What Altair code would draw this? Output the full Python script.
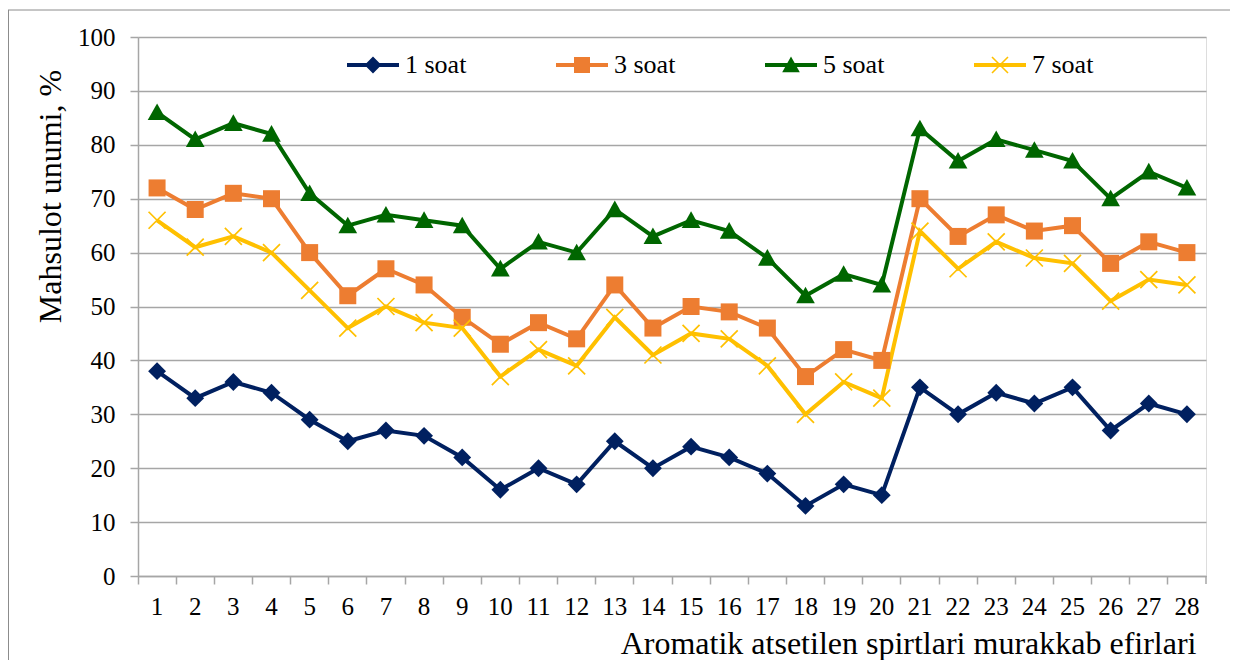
import altair as alt
import pandas as pd

categories = list(range(1, 29))
series_names = ["1 soat", "3 soat", "5 soat", "7 soat"]
soat1 = [38, 33, 36, 34, 29, 25, 27, 26, 22, 16, 20, 17, 25, 20, 24, 22, 19, 13, 17, 15, 35, 30, 34, 32, 35, 27, 32, 30]
soat3 = [72, 68, 71, 70, 60, 52, 57, 54, 48, 43, 47, 44, 54, 46, 50, 49, 46, 37, 42, 40, 70, 63, 67, 64, 65, 58, 62, 60]
soat5 = [86, 81, 84, 82, 71, 65, 67, 66, 65, 57, 62, 60, 68, 63, 66, 64, 59, 52, 56, 54, 83, 77, 81, 79, 77, 70, 75, 72]
soat7 = [66, 61, 63, 60, 53, 46, 50, 47, 46, 37, 42, 39, 48, 41, 45, 44, 39, 30, 36, 33, 64, 57, 62, 59, 58, 51, 55, 54]
colors = ["#002060", "#ED7D31", "#006600", "#FFC000"]
y_ticks = list(range(0, 101, 10))

rows = []
for name, vals in zip(series_names, [soat1, soat3, soat5, soat7]):
    for c, v in zip(categories, vals):
        rows.append({"idx": c, "series": name, "value": v})
df = pd.DataFrame(rows)

# marker shapes (unit square paths, filled, clockwise)
a = 0.0707
diamond = "M0,-1.05L1.05,0L0,1.05L-1.05,0Z"
square = "M-1,-1L1,-1L1,1L-1,1Z"
triangle = "M0,-1.05L1.1,0.9L-1.1,0.9Z"
xmark = (f"M{-1+a},{-1-a}L{1+a},{1-a}L{1-a},{1+a}L{-1-a},{-1+a}Z"
         f"M{-1-a},{1-a}L{1-a},{-1-a}L{1+a},{-1+a}L{-1+a},{1+a}Z")
marker_paths = [diamond, square, triangle, xmark]
line_seg = "M-3.25,-0.25L3.25,-0.25L3.25,0.25L-3.25,0.25Z"
legend_paths = [line_seg + p for p in marker_paths]

W, H = 1068, 539
GRID = "#a6a6a6"
FONT = "Liberation Serif, Times New Roman, Times, serif"

x_enc = alt.X(
    "idx:O",
    scale=alt.Scale(type="band", paddingInner=0, paddingOuter=0),
    axis=alt.Axis(
        title="Aromatik atsetilen spirtlari murakkab efirlari",
        labelAngle=0, bandPosition=0, tickSize=8, labelPadding=10,
        labelFontSize=25, labelFont=FONT, labelColor="black",
        titleFont=FONT, titleFontSize=32, titleFontWeight="normal", titleColor="black",
        titleX=1058, titleY=77, titleAlign="right", titleBaseline="alphabetic",
        domainColor=GRID, domainWidth=1.5, tickColor=GRID, tickWidth=1.5, grid=False,
    ),
)
y_enc = alt.Y(
    "value:Q",
    scale=alt.Scale(domain=[0, 100], nice=False),
    axis=alt.Axis(
        values=y_ticks, title="Mahsulot unumi, %",
        titleX=-78, titleY=159, titleAngle=270, titleAlign="center", titleBaseline="alphabetic",
        titleFont=FONT, titleFontSize=32, titleFontWeight="normal", titleColor="black",
        tickSize=8, labelPadding=15, labelFontSize=25, labelFont=FONT, labelColor="black",
        domainColor=GRID, domainWidth=1.5, tickColor=GRID, tickWidth=1.5,
        grid=True, gridColor=GRID, gridWidth=1.5,
    ),
)
color_scale = alt.Scale(domain=series_names, range=colors)

lines = alt.Chart(df).mark_line(strokeWidth=4).encode(
    x=x_enc, y=y_enc,
    color=alt.Color("series:N", scale=color_scale, legend=None),
    detail="series:N",
)

points = alt.Chart(df).mark_point(filled=True, opacity=1, size=289, strokeWidth=0).encode(
    x=x_enc, y=y_enc,
    color=alt.Color("series:N", scale=color_scale, legend=None),
    shape=alt.Shape("series:N", scale=alt.Scale(domain=series_names, range=marker_paths), legend=None),
)

legend_spec = alt.Legend(
    title=None, orient="none", legendX=222, legendY=15,
    direction="horizontal", columns=4, columnPadding=89,
    symbolSize=256, symbolStrokeWidth=0, symbolOpacity=1,
    labelFont=FONT, labelFontSize=26, labelColor="black", labelOffset=19,
    padding=0,
)
legend_layer = alt.Chart(df).transform_filter("false").mark_point(
    filled=True, opacity=1, size=256, strokeWidth=0
).encode(
    x=x_enc, y=y_enc,
    color=alt.Color("series:N", scale=color_scale, legend=legend_spec),
    shape=alt.Shape("series:N", scale=alt.Scale(domain=series_names, range=legend_paths), legend=legend_spec),
)

border_df = alt.Data(values=[{"k": 0}])
top_border = alt.Chart(border_df).mark_rule(color="#8c8c8c", strokeWidth=1).encode(
    x=alt.value(-130), x2=alt.value(W + 40), y=alt.value(-27)
)
left_border = alt.Chart(border_df).mark_rule(color="#8c8c8c", strokeWidth=1).encode(
    x=alt.value(-129.5), y=alt.value(-27), y2=alt.value(H + 100)
)
end_tick = alt.Chart(border_df).mark_rule(color=GRID, strokeWidth=1.5).encode(
    x=alt.value(W), y=alt.value(H), y2=alt.value(H + 8)
)

chart = alt.layer(top_border, left_border, lines, points, legend_layer, end_tick).resolve_scale(
    shape="independent", color="independent"
).properties(
    width=W, height=H,
    padding={"left": 130, "top": 29, "right": 24, "bottom": 84},
    autosize=alt.AutoSizeParams(type="none"),
).configure_view(stroke=None).configure(font=FONT)

chart.save("out.html", embed_options={"renderer": "svg", "actions": False})
